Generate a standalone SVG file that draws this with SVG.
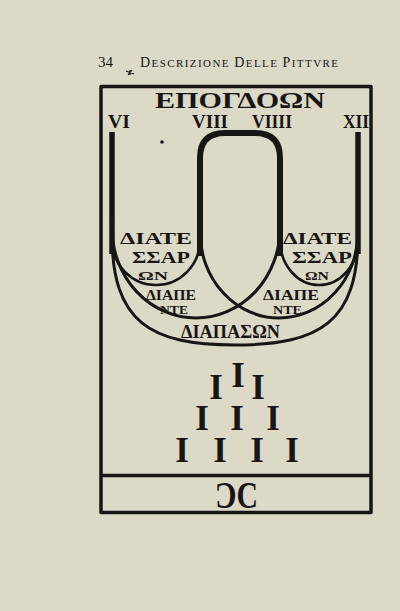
<svg xmlns="http://www.w3.org/2000/svg" width="400" height="611" viewBox="0 0 400 611">
  <style>
    .ink { fill: #171614; }
    .ln { fill: none; stroke: #171614; stroke-linecap: butt; stroke-linejoin: round; }
    .serif { font-family: "Liberation Serif", "DejaVu Serif", serif; }
    .b { font-weight: bold; }
  </style>
  <rect x="0" y="0" width="400" height="611" fill="#dcd9c7"/>

  <g id="header" class="ink serif">
    <text x="98" y="67" font-size="15">34</text>
    <text x="140" y="67" font-size="11" textLength="198" lengthAdjust="spacing"><tspan font-size="14">D</tspan>ESCRIZIONE <tspan font-size="14">D</tspan>ELLE <tspan font-size="14">P</tspan>ITTVRE</text>
    <path d="M126,71 L134,74 M128,75 L132,70 M130,70 L130,75" stroke="#171614" stroke-width="1.2"/>
  </g>

  <g id="frame">
    <rect x="101" y="86.5" width="270" height="426" class="ln" stroke-width="3.5"/>
    <line x1="101" y1="475.5" x2="371" y2="475.5" class="ln" stroke-width="3.5"/>
  </g>

  <g id="title" class="ink serif b">
    <text x="155" y="108" font-size="24" textLength="170" lengthAdjust="spacingAndGlyphs">ΕΠΟΓΔΟΩΝ</text>
  </g>

  <g id="numerals" class="ink serif b" font-size="19">
    <text id="n6" x="108" y="128" textLength="22" lengthAdjust="spacingAndGlyphs">VI</text>
    <text id="n8" x="192" y="128" textLength="36" lengthAdjust="spacingAndGlyphs">VIII</text>
    <text id="n9" x="252" y="128" textLength="40" lengthAdjust="spacingAndGlyphs">VIIII</text>
    <text id="n12" x="343" y="128" textLength="26" lengthAdjust="spacingAndGlyphs">XII</text>
  </g>

  <g id="connectors">
    <!-- verticals -->
    <path d="M112,132 L112,254" class="ln" stroke-width="5.5"/>
    <path d="M358,132 L358,254" class="ln" stroke-width="5.5"/>
    <!-- epogdoon arch VIII-VIIII -->
    <path d="M200,256 L200,158 Q200,133 225,133 L255,133 Q280,133 280,158 L280,256" class="ln" stroke-width="6"/>
    <!-- diatessaron bowls -->
    <path d="M112,222 L112,240 A44 45 0 0 0 200,240 L200,222" class="ln" stroke-width="2.6"/>
    <path d="M280,222 L280,240 A39 45 0 0 0 358,240 L358,222" class="ln" stroke-width="2.6"/>
    <!-- diapente arcs -->
    <path d="M112,228 A84 90 0 0 0 280,228" class="ln" stroke-width="3"/>
    <path d="M200,232 A79 86 0 0 0 358,232" class="ln" stroke-width="3"/>
    <!-- diapason -->
    <path d="M112,235 C112,322 150,345 235,345 C320,345 358,322 358,235" class="ln" stroke-width="3"/>
  </g>

  <g id="labels" class="ink serif b">
    <text x="120" y="244" font-size="17" textLength="72" lengthAdjust="spacingAndGlyphs">ΔΙΑΤΕ</text>
    <text x="132" y="263" font-size="17" textLength="58" lengthAdjust="spacingAndGlyphs">ΣΣΑΡ</text>
    <text x="138" y="279.5" font-size="13" textLength="30" lengthAdjust="spacingAndGlyphs">ΩΝ</text>
    <text x="283" y="244" font-size="17" textLength="69" lengthAdjust="spacingAndGlyphs">ΔΙΑΤΕ</text>
    <text x="292" y="263" font-size="17" textLength="60" lengthAdjust="spacingAndGlyphs">ΣΣΑΡ</text>
    <text x="305" y="279.5" font-size="13" textLength="24" lengthAdjust="spacingAndGlyphs">ΩΝ</text>
    <text x="146" y="299.5" font-size="15" textLength="50" lengthAdjust="spacingAndGlyphs">ΔΙΑΠΕ</text>
    <text x="160" y="313.5" font-size="13" textLength="28" lengthAdjust="spacingAndGlyphs">ΝΤΕ</text>
    <text x="263" y="299.5" font-size="15" textLength="56" lengthAdjust="spacingAndGlyphs">ΔΙΑΠΕ</text>
    <text x="273" y="313.5" font-size="13" textLength="29" lengthAdjust="spacingAndGlyphs">ΝΤΕ</text>
    <text x="181" y="338" font-size="18" textLength="99" lengthAdjust="spacingAndGlyphs">ΔΙΑΠΑΣΩΝ</text>
  </g>

  <circle cx="162" cy="142" r="1.8" class="ink"/>

  <g id="units" class="ink serif b" font-size="35" text-anchor="middle">
    <text x="216" y="399">I</text>
    <text x="238" y="387">I</text>
    <text x="258" y="399">I</text>
    <text x="202" y="430">I</text>
    <text x="237" y="430">I</text>
    <text x="273" y="430">I</text>
    <text x="182" y="462">I</text>
    <text x="220" y="462">I</text>
    <text x="257" y="462">I</text>
    <text x="292" y="462">I</text>
  </g>

  <g id="footer" class="ink serif b">
    <text x="215" y="508" font-size="38" textLength="43" lengthAdjust="spacingAndGlyphs">ƆC</text>
  </g>
</svg>
